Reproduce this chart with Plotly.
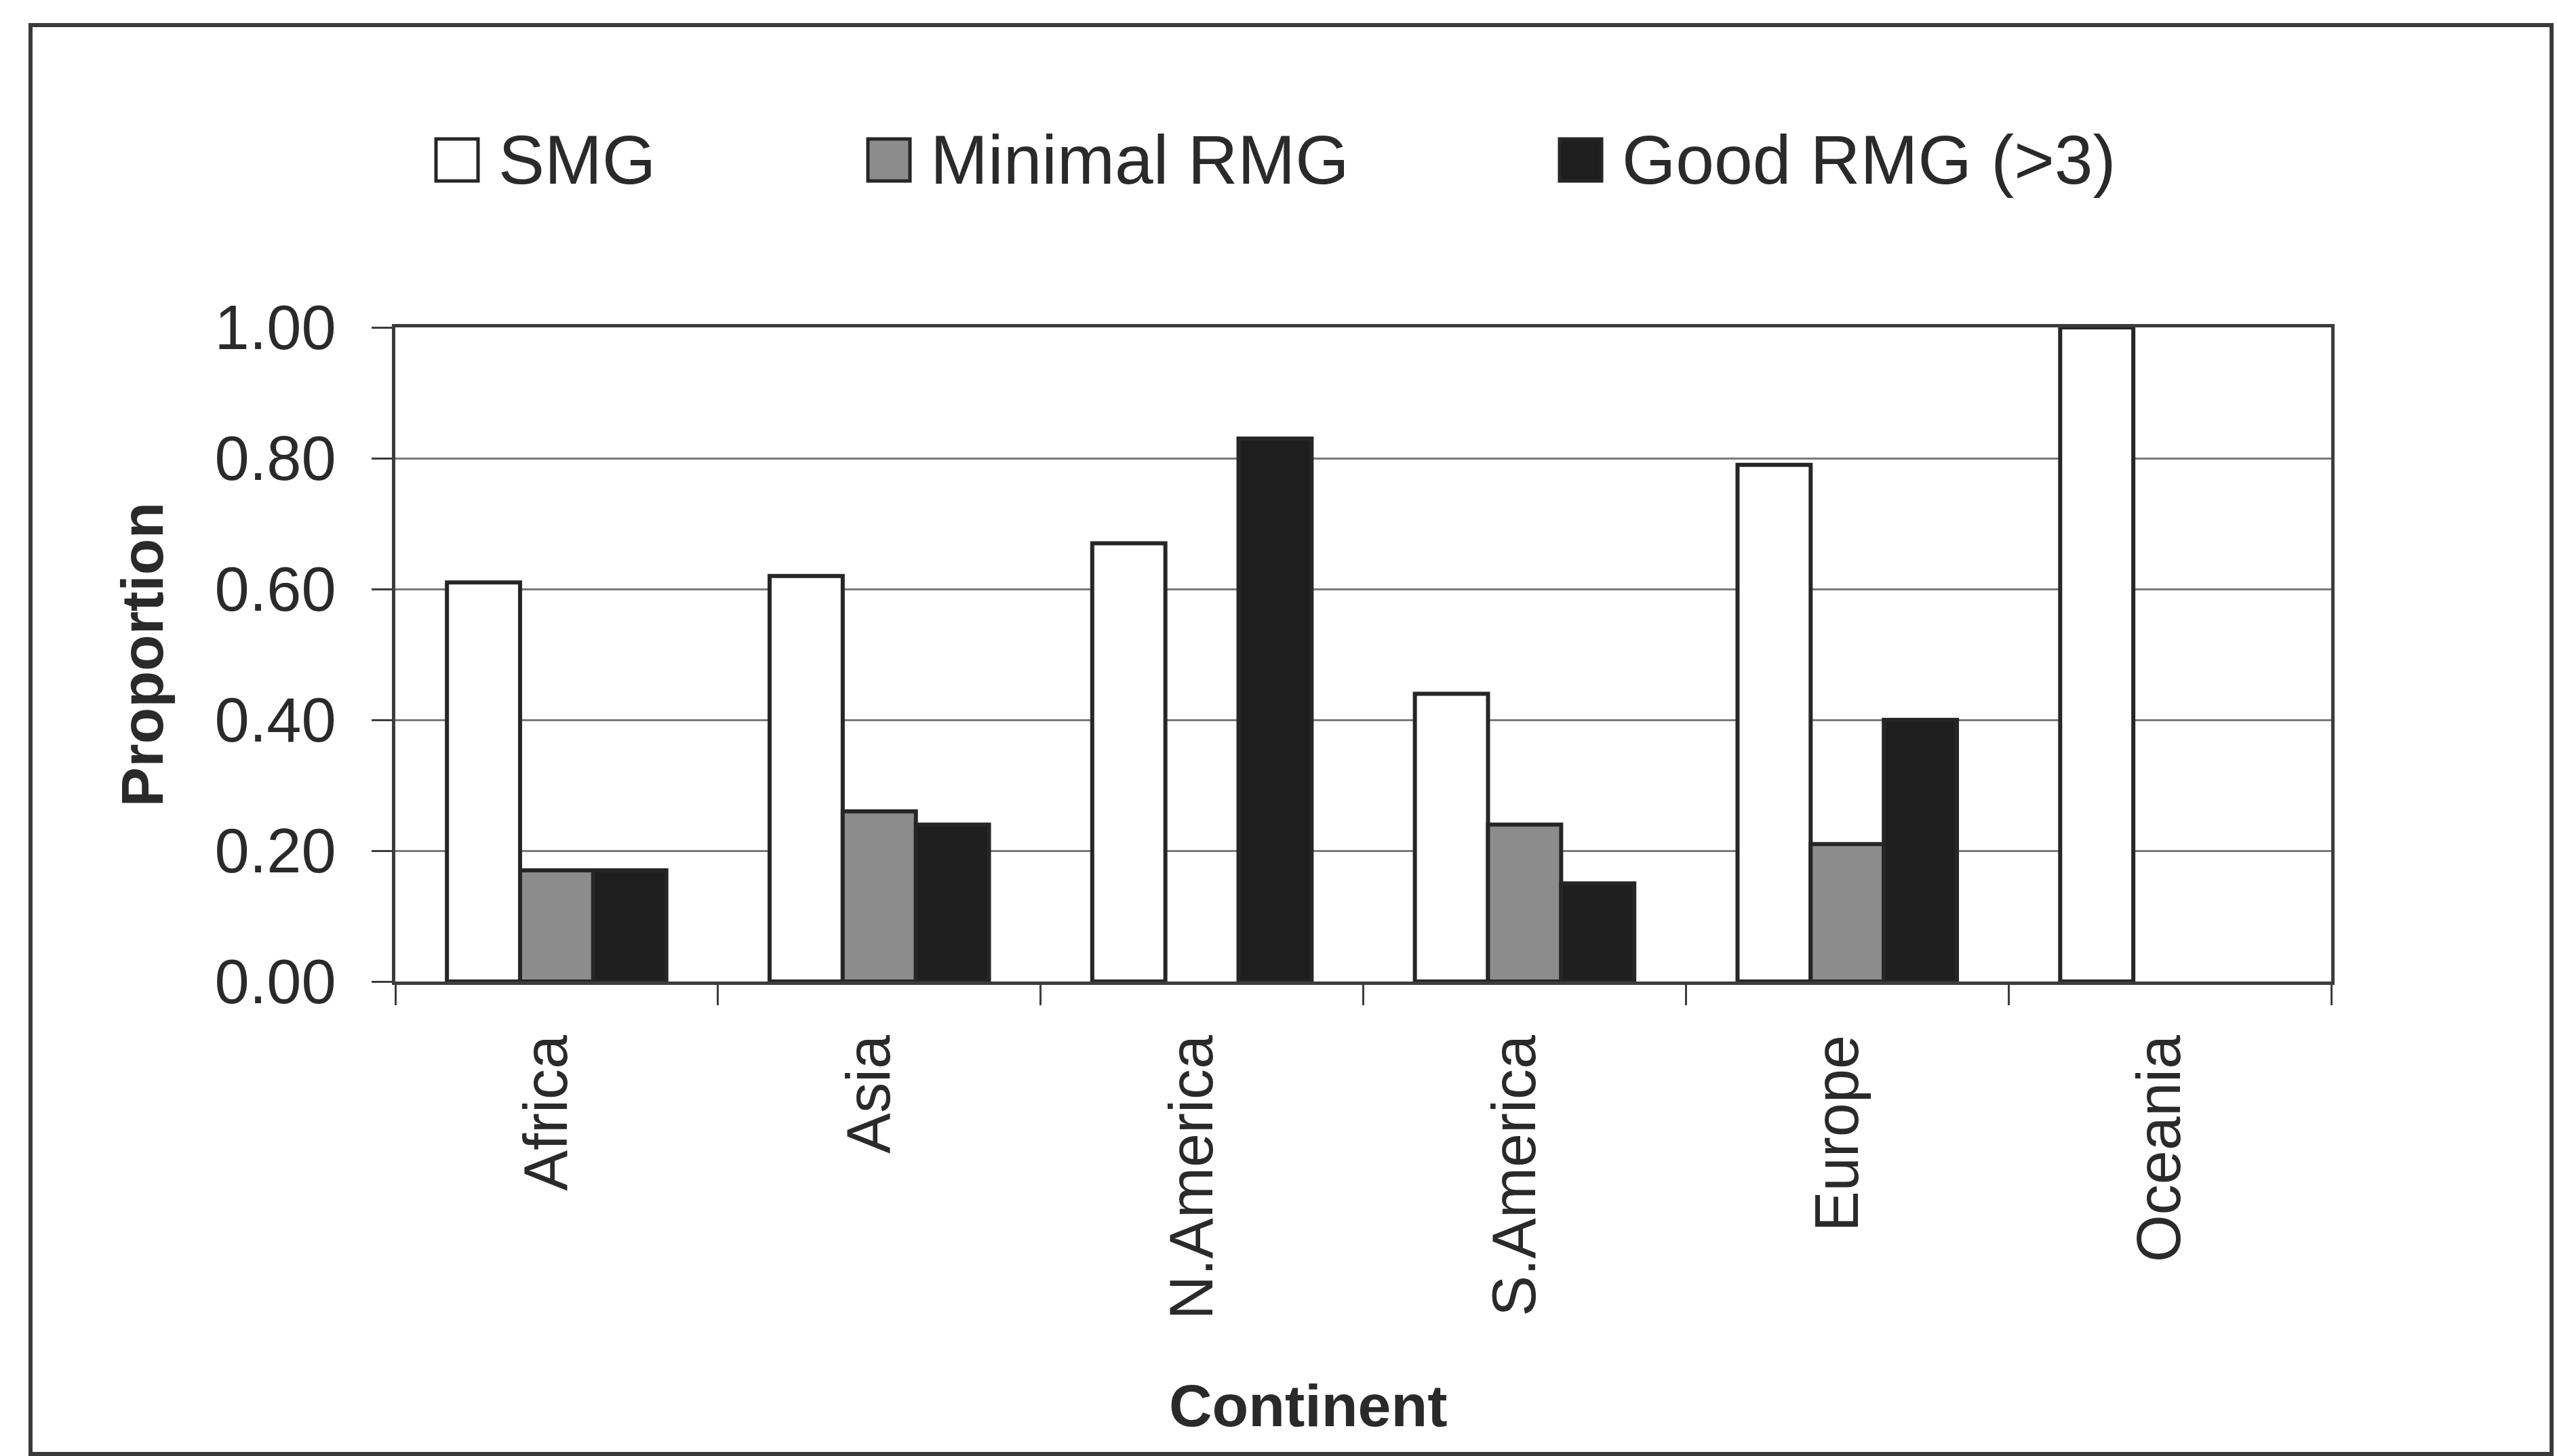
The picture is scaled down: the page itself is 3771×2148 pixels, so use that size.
import plotly.graph_objects as go

# ---------------- data ----------------
continents = ["Africa", "Asia", "N.America", "S.America", "Europe", "Oceania"]
series_names = ["SMG", "Minimal RMG", "Good RMG (>3)"]
smg = [0.61, 0.62, 0.67, 0.44, 0.79, 1.00]
minimal_rmg = [0.17, 0.26, 0.00, 0.24, 0.21, 0.00]
good_rmg = [0.17, 0.24, 0.83, 0.15, 0.40, 0.00]
y_ticks = [0.0, 0.2, 0.4, 0.6, 0.8, 1.0]

# ---------------- style ----------------
W, H = 3771, 2148
PL, PR, PT, PB = 583, 3438, 483, 1448  # plot area in pixels
fills = ["#ffffff", "#8c8c8c", "#1e1e1e"]
outline = "#262626"
text_col = "#2a2a2a"
font_fam = "Liberation Sans, Arial, Helvetica, sans-serif"


def px_x(p):
    return (p - PL) / (PR - PL)


def px_y(p):
    return (PB - p) / (PB - PT)


fig = go.Figure()
for name, vals, col in zip(series_names, [smg, minimal_rmg, good_rmg], fills):
    # empty (zero) bars get no outline so no stray line is drawn on the axis
    widths = [6 if v > 0 else 0 for v in vals]
    fig.add_trace(go.Bar(
        x=continents, y=vals, name=name,
        marker=dict(color=col, line=dict(color=outline, width=widths)),
        showlegend=False,
    ))

fig.update_layout(
    width=W, height=H,
    margin=dict(l=PL, r=W - PR, t=PT, b=H - PB, pad=0),
    paper_bgcolor="white", plot_bgcolor="white",
    barmode="group", bargap=0.32, bargroupgap=0.0,
    font=dict(family=font_fam, color=text_col, size=90),
    showlegend=False,
)

fig.update_xaxes(
    type="category",
    showline=True, linecolor="#3c3c3c", linewidth=5, mirror=True,
    ticks="outside", ticklen=30, tickwidth=3, tickcolor="#3c3c3c",
    tickson="boundaries",
    tickangle=-90,
    tickfont=dict(size=90, color=text_col, family=font_fam),
    ticklabelstandoff=38,
    ticklabelshift=-14,
    showgrid=False,
)
fig.update_yaxes(
    range=[0, 1.0],
    tickvals=y_ticks, tickformat=".2f",
    showline=True, linecolor="#3c3c3c", linewidth=5, mirror=True,
    ticks="outside", ticklen=30, tickwidth=3, tickcolor="#3c3c3c",
    showgrid=True, gridcolor="#7a7a7a", gridwidth=3,
    zeroline=False,
    tickfont=dict(size=92, color=text_col, family=font_fam),
    ticklabelstandoff=34,
)

# axis titles
fig.add_annotation(text="<b>Proportion</b>", xref="paper", yref="paper",
                   x=px_x(209), y=px_y((PT + PB) / 2), textangle=-90,
                   showarrow=False, xanchor="center", yanchor="middle",
                   font=dict(size=88, color=text_col, family=font_fam))
fig.add_annotation(text="<b>Continent</b>", xref="paper", yref="paper",
                   x=px_x(1929), y=px_y(2073),
                   showarrow=False, xanchor="center", yanchor="middle",
                   font=dict(size=88, color=text_col, family=font_fam))

# manual legend (large swatches)
legend_sq_x = [643, 1280, 2300]
sq = 62
leg_cy = 236
for name, col, x0 in zip(series_names, fills, legend_sq_x):
    fig.add_shape(type="rect", xref="paper", yref="paper",
                  x0=px_x(x0), x1=px_x(x0 + sq),
                  y0=px_y(leg_cy + sq / 2), y1=px_y(leg_cy - sq / 2),
                  fillcolor=col, line=dict(color=outline, width=5))
    fig.add_annotation(text=name, xref="paper", yref="paper",
                       x=px_x(x0 + sq + 28), y=px_y(leg_cy),
                       showarrow=False, xanchor="left", yanchor="middle",
                       font=dict(size=102, color=text_col, family=font_fam))

# outer chart border
fig.add_shape(type="rect", xref="paper", yref="paper",
              x0=px_x(45), x1=px_x(3763), y0=px_y(2145), y1=px_y(37),
              fillcolor="rgba(0,0,0,0)", line=dict(color="#3a3a3a", width=6),
              layer="below")

fig.write_html("out.html")
